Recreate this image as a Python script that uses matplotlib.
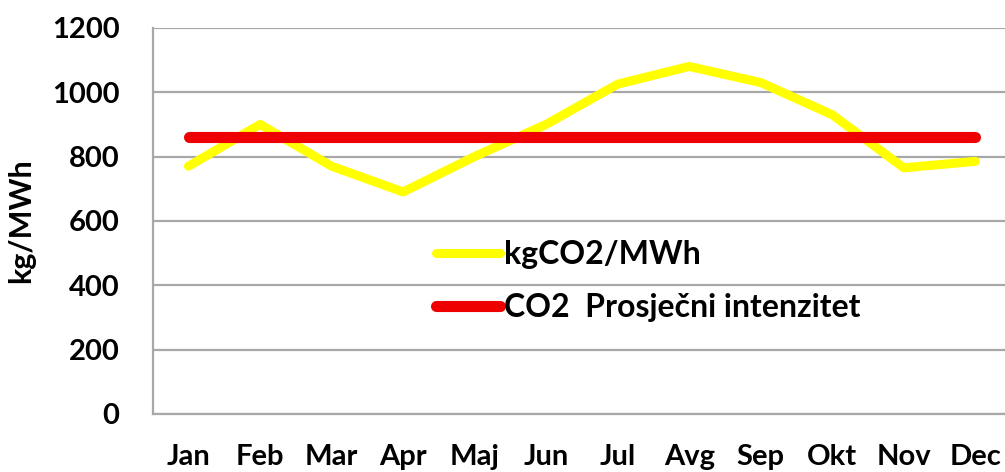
import numpy as np
import matplotlib.pyplot as plt

# monthly carbon intensity (kg CO2 per MWh)
months = ["Jan", "Feb", "Mar", "Apr", "Maj", "Jun",
          "Jul", "Avg", "Sep", "Okt", "Nov", "Dec"]
intensity = [770, 900, 770, 690, 800, 900, 1025, 1080, 1030, 930, 765, 785]
average = [860] * 12

y_ticks = [0, 200, 400, 600, 800, 1000, 1200]

plt.rcParams['font.family'] = ['Lato', 'DejaVu Sans']
plt.rcParams['font.weight'] = 'bold'

fig = plt.figure(figsize=(10.05, 4.72), dpi=100)
ax = fig.add_axes([0.152, 0.123, 0.854, 0.818])

x = np.arange(len(months))
ax.plot(x, intensity, color="#FFFF00", linewidth=6.5,
        solid_capstyle='round', solid_joinstyle='round', label="kgCO2/MWh", zorder=3)
ax.plot(x, average, color="#EE0000", linewidth=8,
        solid_capstyle='round', label="CO2  Prosječni intenzitet", zorder=4)

ax.set_xlim(-0.5, len(months) - 0.5)
ax.set_ylim(0, 1200)
ax.set_yticks(y_ticks)
ax.set_xticks(x)
ax.set_xticklabels(months)

ax.grid(axis='y', color="#A8A8A8", linewidth=1.6)
ax.set_axisbelow(True)
for side in ['top', 'right']:
    ax.spines[side].set_visible(False)
for side in ['left', 'bottom']:
    ax.spines[side].set_color("#A8A8A8")
    ax.spines[side].set_linewidth(1.6)

ax.tick_params(axis='y', length=0, labelsize=21, pad=24)
ax.tick_params(axis='x', length=0, labelsize=21, pad=22)
for lbl in ax.get_xticklabels() + ax.get_yticklabels():
    lbl.set_fontweight('bold')

ax.set_ylabel("kg/MWh", fontsize=22, fontweight='bold', labelpad=12)

ax.legend(loc='upper left', bbox_to_anchor=(0.33, 0.45), frameon=False,
          handlelength=2.0, handletextpad=0.12,
          labelspacing=0.75, borderpad=0, borderaxespad=0,
          prop={'weight': 'bold', 'size': 23})

fig.savefig("out.png", dpi=100)
